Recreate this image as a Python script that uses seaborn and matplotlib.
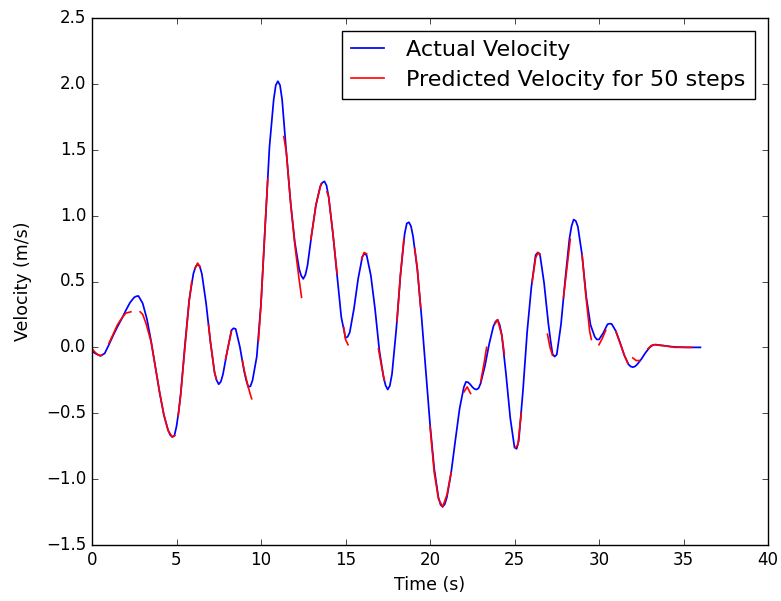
import numpy as np
import pandas as pd
import matplotlib
matplotlib.use("Agg")
import matplotlib.pyplot as plt
import seaborn as sns

plt.style.use("classic")
plt.rcParams["font.family"] = ["DejaVu Sans"]

# ---- data ----
time_step = 0.25
actual_velocity = [
    -0.03, -0.05, -0.065, -0.046,     # 0
    0.02, 0.09, 0.155, 0.215,         # 1
    0.28, 0.34, 0.38, 0.39,           # 2
    0.334, 0.215, 0.046, -0.149,      # 3
    -0.343, -0.511, -0.628, -0.68,    # 4
    -0.60, -0.35, 0.02, 0.36,         # 5
    0.56, 0.63, 0.559, 0.336,         # 6
    0.048, -0.189, -0.28, -0.204,     # 7
    -0.03, 0.13, 0.14, 0.004,         # 8
    -0.18, -0.30, -0.25, -0.07,       # 9
    0.33, 0.93, 1.52, 1.88,           # 10
    2.02, 1.88, 1.48, 1.10,           # 11
    0.80, 0.60, 0.52, 0.62,           # 12
    0.86, 1.08, 1.22, 1.26,           # 13
    1.145, 0.87, 0.55, 0.23,          # 14
    0.072, 0.113, 0.293, 0.522,       # 15
    0.69, 0.70, 0.546, 0.289,         # 16
    -0.02, -0.226, -0.32, -0.204,     # 17
    0.131, 0.546, 0.862, 0.95,        # 18
    0.84, 0.59, 0.23, -0.18,          # 19
    -0.58, -0.92, -1.14, -1.21,       # 20
    -1.138, -0.952, -0.705, -0.466,   # 21
    -0.303, -0.265, -0.30, -0.32,     # 22
    -0.272, -0.141, 0.025, 0.159,     # 23
    0.21, 0.092, -0.206, -0.537,      # 24
    -0.76, -0.71, -0.33, 0.12,        # 25
    0.46, 0.70, 0.71, 0.489,          # 26
    0.184, -0.05, -0.055, 0.173,      # 27
    0.514, 0.825, 0.97, 0.916,        # 28
    0.70, 0.38, 0.17, 0.08,           # 29
    0.06, 0.109, 0.175, 0.178,        # 30
    0.123, 0.035, -0.061, -0.13,      # 31
    -0.15, -0.131, -0.09, -0.041,     # 32
    0.0, 0.02, 0.018, 0.015,          # 33
    0.01, 0.006, 0.003, 0.002,        # 34
    0.001, 0.0, 0.0, 0.0,             # 35
    0.0,                              # 36
]
# extra readings taken around the turning points of the actual curve
extra_time = [2.625, 4.625, 4.875, 5.125, 6.125, 6.375, 7.375, 7.625, 8.375,
              9.125, 9.375, 10.875, 11.125, 12.375, 12.625, 13.625, 13.875,
              15.125, 16.125, 17.375, 17.625, 18.625, 18.875, 20.625, 20.875,
              22.125, 22.375, 22.625, 22.875, 23.875, 24.125, 25.125, 26.375,
              27.125, 27.375, 28.375, 28.625, 29.875, 30.625, 31.875, 32.125,
              33.125, 33.375]
extra_velocity = [0.388, -0.665, -0.67, -0.49, 0.61, 0.615, -0.25, -0.26, 0.145,
                  -0.25, -0.295, 1.99, 1.99, 0.545, 0.55, 1.25, 1.23,
                  0.08, 0.71, -0.29, -0.29, 0.94, 0.92, -1.195, -1.19,
                  -0.262, -0.28, -0.315, -0.31, 0.195, 0.17, -0.77, 0.72,
                  0.06, -0.07, 0.92, 0.96, 0.06, 0.18, -0.145, -0.145,
                  0.012, 0.021]

# predicted velocity, drawn as separate 50-step prediction pieces
pred_t = [
    [0.0, 0.2, 0.4, 0.6],
    [1.0, 1.25, 1.5, 1.75, 2.0, 2.3],
    [2.85, 3.0, 3.2, 3.5, 3.75, 4.0, 4.25, 4.5, 4.75, 4.9],
    [5.1, 5.25, 5.5, 5.75, 5.9],
    [6.1, 6.25, 6.4],
    [6.9, 7.0, 7.25, 7.35],
    [7.9, 8.0, 8.25],
    [8.9, 9.0, 9.2, 9.35, 9.45],
    [9.85, 10.0, 10.25, 10.4],
    [11.35, 11.5, 11.75, 12.0, 12.25, 12.4],
    [12.95, 13.25, 13.55],
    [13.9, 14.0, 14.25, 14.5],
    [14.9, 15.0, 15.15],
    [15.95, 16.1, 16.25],
    [16.95, 17.1, 17.3],
    [18.05, 18.25, 18.45],
    [19.1, 19.25, 19.45],
    [20.0, 20.25, 20.5, 20.75, 21.0, 21.25],
    [22.0, 22.2, 22.4],
    [23.0, 23.2, 23.35],
    [23.85, 24.0, 24.25, 24.4],
    [25.05, 25.2, 25.4],
    [26.05, 26.25, 26.4, 26.5],
    [26.95, 27.1, 27.25],
    [27.9, 28.1, 28.3],
    [29.0, 29.2, 29.45, 29.55],
    [30.0, 30.2, 30.4],
    [31.0, 31.25, 31.5, 31.7],
    [32.0, 32.2, 32.4],
    [32.9, 33.1, 33.3, 33.6, 34.0, 34.5, 35.0, 35.5],
]
pred_v = [
    [-0.01, -0.04, -0.06, -0.06],
    [0.03, 0.10, 0.17, 0.22, 0.26, 0.27],
    [0.27, 0.25, 0.18, 0.04, -0.15, -0.34, -0.51, -0.63, -0.68, -0.67],
    [-0.52, -0.36, 0.0, 0.35, 0.50],
    [0.60, 0.64, 0.61],
    [0.17, 0.05, -0.19, -0.24],
    [-0.09, -0.03, 0.12],
    [-0.10, -0.17, -0.28, -0.35, -0.39],
    [0.05, 0.33, 0.94, 1.28],
    [1.60, 1.48, 1.10, 0.78, 0.52, 0.38],
    [0.82, 1.08, 1.24],
    [1.18, 1.145, 0.87, 0.56],
    [0.15, 0.06, 0.02],
    [0.67, 0.72, 0.71],
    [-0.01, -0.12, -0.25],
    [0.20, 0.55, 0.82],
    [0.75, 0.60, 0.30],
    [-0.60, -0.95, -1.15, -1.21, -1.12, -0.95],
    [-0.34, -0.30, -0.35],
    [-0.26, -0.12, 0.0],
    [0.18, 0.21, 0.09, -0.05],
    [-0.76, -0.74, -0.50],
    [0.50, 0.68, 0.72, 0.70],
    [0.10, 0.0, -0.06],
    [0.38, 0.60, 0.82],
    [0.70, 0.42, 0.12, 0.06],
    [0.02, 0.07, 0.13],
    [0.12, 0.03, -0.06, -0.12],
    [-0.08, -0.10, -0.10],
    [-0.01, 0.015, 0.02, 0.015, 0.01, 0.0, 0.0, 0.0],
]

labels = ["Actual Velocity", "Predicted Velocity for 50 steps"]
x_ticks = [0, 5, 10, 15, 20, 25, 30, 35, 40]
y_ticks = [-1.5, -1.0, -0.5, 0.0, 0.5, 1.0, 1.5, 2.0, 2.5]

# ---- build frames ----
grid_time = np.arange(len(actual_velocity)) * time_step
actual_df = pd.DataFrame({
    "t": np.concatenate([grid_time, extra_time]),
    "v": np.concatenate([actual_velocity, extra_velocity]),
}).sort_values("t").reset_index(drop=True)

rows = []
for i, (ts, vs) in enumerate(zip(pred_t, pred_v)):
    for t, v in zip(ts, vs):
        rows.append({"seg": i, "t": t, "v": v})
pred_df = pd.DataFrame(rows)

# ---- figure ----
fig = plt.figure(figsize=(7.81, 6.01), dpi=100, facecolor="white")
ax = fig.add_axes([92 / 781, 1 - 545 / 601, (768 - 92) / 781, (545 - 18) / 601])
ax.set_facecolor("white")

sns.lineplot(data=actual_df, x="t", y="v", color="b", linewidth=1.25,
             estimator=None, sort=False, ax=ax)
sns.lineplot(data=pred_df, x="t", y="v", units="seg", color="r", linewidth=1.2,
             estimator=None, sort=False, ax=ax)

ax.set_xlim(0, 40)
ax.set_ylim(-1.5, 2.5)
ax.set_xticks(x_ticks)
ax.set_yticks(y_ticks)
ax.set_xlabel("Time (s)", fontsize=12.5)
ax.set_ylabel("Velocity (m/s)", fontsize=12.5, labelpad=10)

lines = ax.get_lines()
ax.legend(handles=[lines[0], lines[1]], labels=labels, loc="upper right",
          fontsize=16, frameon=True, fancybox=False, numpoints=1,
          handlelength=1.5, handletextpad=1.0, borderaxespad=0.6,
          labelspacing=0.45)

fig.savefig("out.png", dpi=100, facecolor="white")
